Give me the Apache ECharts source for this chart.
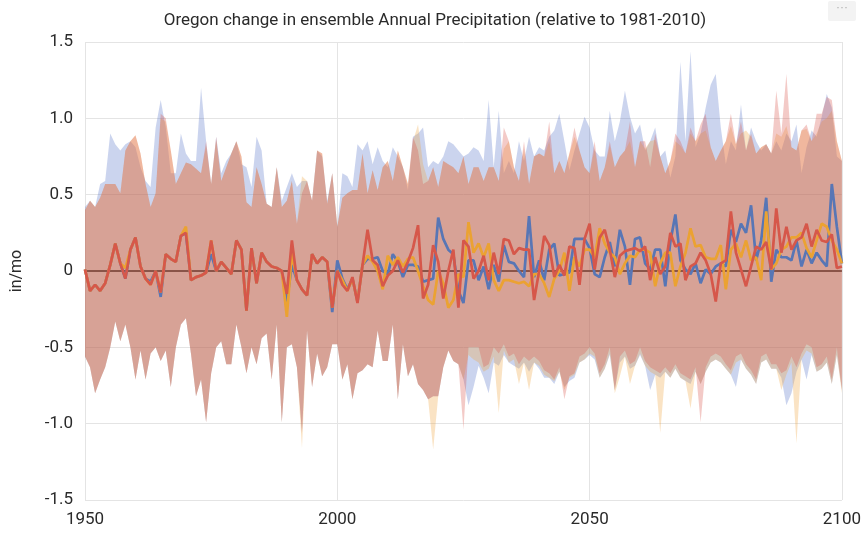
<!DOCTYPE html>
<html>
<head>
<meta charset="utf-8">
<script src="https://cdn.jsdelivr.net/npm/echarts@6/dist/echarts.min.js"></script>
<style>html,body{margin:0;padding:0;background:#fff;}#c{width:864px;height:534px;}</style>
</head>
<body>
<div id="c"></div>
<script>
const years = [];
for (let y = 1950; y <= 2100; y++) years.push(String(y));
const xTickLabels = ['1950', '2000', '2050', '2100'];
const yTicks = [-1.5, -1.0, -0.5, 0, 0.5, 1.0, 1.5];

const redMean = [
 0.01,-0.13,-0.09,-0.13,-0.08,0.04,0.18,0.05,-0.05,0.14,
 0.22,0.03,-0.05,-0.09,0.0,-0.14,0.11,0.08,0.06,0.23,
 0.25,-0.06,-0.04,-0.03,-0.01,0.2,0.0,0.06,0.02,-0.02,
 0.2,0.14,-0.26,0.15,-0.08,0.12,0.06,0.03,0.02,0.0,
 -0.15,0.2,-0.06,-0.12,-0.16,0.11,0.05,0.09,0.06,-0.24,
 0.0,-0.09,-0.13,-0.04,-0.21,0.04,0.27,0.07,0.04,-0.1,
 -0.03,0.0,0.07,-0.01,0.06,0.15,0.3,-0.18,-0.09,0.17,
 0.06,-0.18,0.0,0.14,-0.24,0.2,0.16,-0.05,0.0,0.1,
 -0.06,0.12,-0.02,0.21,0.2,0.11,0.15,0.14,0.14,-0.19,
 0.0,0.23,0.17,-0.04,0.04,-0.03,0.16,0.15,-0.09,0.21,
 0.31,0.01,0.22,0.27,0.14,-0.04,0.1,0.13,0.14,0.15,
 0.13,0.16,-0.06,0.09,-0.02,0.03,0.25,0.16,0.18,-0.06,
 0.03,0.05,0.12,0.07,-0.02,-0.2,0.05,0.07,0.39,0.12,
 0.01,-0.1,0.03,0.16,0.14,0.19,0.01,0.41,0.12,0.29,
 0.14,0.2,0.22,0.31,0.16,0.27,0.2,0.19,0.24,0.02,
 0.03];
const blueMean = [
 0.01,-0.13,-0.09,-0.13,-0.08,0.04,0.18,0.05,-0.05,0.14,
 0.22,0.03,-0.05,-0.07,0.0,-0.17,0.11,0.08,0.06,0.23,
 0.25,-0.06,-0.04,-0.03,-0.01,0.11,0.0,0.06,0.02,-0.02,
 0.2,0.14,-0.26,0.15,-0.08,0.12,0.06,0.03,0.02,0.0,
 -0.2,0.04,-0.06,-0.12,-0.16,0.11,0.05,0.09,0.06,-0.27,
 0.07,-0.05,-0.12,-0.05,-0.2,0.04,0.08,0.08,0.09,0.0,
 -0.02,0.11,0.06,-0.04,0.04,0.04,0.03,-0.07,-0.06,-0.05,
 0.35,0.21,0.14,0.11,-0.13,-0.21,0.07,0.07,-0.06,0.03,
 -0.12,0.04,-0.07,0.17,0.06,0.05,0.0,-0.04,0.36,-0.04,
 0.07,-0.06,0.14,0.18,-0.03,-0.02,-0.01,0.21,0.21,0.21,
 0.15,-0.02,-0.04,0.09,0.19,0.03,0.27,0.16,-0.09,0.21,
 0.22,0.05,0.01,0.14,0.14,-0.1,0.19,0.37,0.07,0.01,
 -0.02,0.05,-0.08,0.01,-0.02,0.03,0.05,0.03,0.27,0.19,
 0.31,0.25,0.43,0.07,0.2,0.48,-0.07,0.14,0.09,0.09,
 0.07,0.2,0.03,0.14,0.05,0.12,0.07,0.03,0.57,0.29,
 0.05];
const orangeMean = [
 0.01,-0.13,-0.09,-0.13,-0.08,0.04,0.18,0.05,0.02,0.14,
 0.22,0.03,-0.05,-0.09,0.0,-0.14,0.11,0.08,0.06,0.23,
 0.29,-0.06,-0.04,-0.03,-0.01,0.2,0.0,0.06,0.02,-0.02,
 0.2,0.14,-0.26,0.15,-0.08,0.12,0.06,0.03,0.02,0.0,
 -0.3,0.12,-0.06,-0.12,-0.16,0.11,0.05,0.09,0.06,-0.24,
 0.0,-0.06,-0.13,-0.05,-0.2,0.04,0.1,0.06,0.0,-0.12,
 0.1,0.04,0.09,0.03,0.08,0.09,0.0,-0.1,-0.19,-0.22,
 0.0,-0.08,-0.24,-0.19,-0.02,-0.04,0.32,0.12,0.18,0.09,
 0.18,-0.06,-0.13,-0.06,-0.06,-0.07,-0.08,-0.07,-0.1,-0.02,
 -0.02,-0.08,-0.17,-0.05,0.0,0.12,-0.13,0.09,0.03,0.14,
 0.14,0.09,0.28,0.18,0.12,0.09,-0.02,0.05,0.1,0.09,
 0.14,0.14,0.12,-0.1,0.05,0.12,0.12,-0.1,0.03,0.12,
 0.28,0.16,0.17,0.09,0.08,0.08,0.17,-0.12,0.14,0.18,
 0.09,0.2,0.07,0.09,-0.06,0.39,0.01,0.05,0.14,0.16,
 0.22,0.22,0.25,0.15,0.09,0.2,0.31,0.29,0.2,0.14,
 0.05];

const redUpper = [
 0.40,0.46,0.42,0.48,0.57,0.57,0.57,0.51,0.79,0.85,
 0.89,0.77,0.57,0.42,0.51,1.03,1.0,0.79,0.57,0.64,
 0.71,0.7,0.67,0.64,0.85,0.57,0.88,0.59,0.68,0.77,
 0.85,0.75,0.45,0.42,0.68,0.57,0.44,0.42,0.68,0.42,
 0.46,0.59,0.31,0.51,0.59,0.46,0.79,0.77,0.44,0.64,
 0.29,0.48,0.51,0.53,0.53,0.77,0.51,0.66,0.53,0.68,
 0.72,0.59,0.79,0.68,0.57,0.88,0.79,0.57,0.59,0.68,
 0.55,0.72,0.7,0.68,0.64,0.75,0.57,0.68,0.68,0.59,
 0.68,0.68,0.59,0.94,0.85,0.68,0.59,0.85,0.57,0.75,
 0.77,0.75,0.98,0.64,0.72,0.64,0.77,0.94,0.79,0.68,
 0.64,0.85,0.59,0.68,0.85,0.68,0.75,0.79,0.98,0.68,
 0.85,0.85,0.68,0.9,0.75,0.64,0.72,0.9,0.85,0.77,
 0.94,0.85,0.96,1.03,0.81,0.72,0.79,0.85,1.03,0.83,
 0.98,0.79,0.9,0.77,0.81,0.83,0.77,1.18,0.9,1.29,
 0.81,0.79,0.92,0.96,0.85,1.03,1.03,1.14,1.12,0.85,
 0.72];
const orangeUpper = [
 0.40,0.46,0.42,0.48,0.57,0.57,0.57,0.51,0.79,0.85,
 0.89,0.77,0.57,0.42,0.51,1.0,0.98,0.79,0.57,0.64,
 0.71,0.7,0.67,0.64,0.82,0.57,0.86,0.59,0.68,0.77,
 0.85,0.75,0.45,0.42,0.68,0.57,0.44,0.42,0.68,0.42,
 0.46,0.59,0.31,0.62,0.59,0.46,0.79,0.77,0.44,0.64,
 0.29,0.48,0.51,0.53,0.53,0.77,0.51,0.66,0.53,0.68,
 0.72,0.59,0.79,0.68,0.57,0.85,0.96,0.7,0.59,0.68,
 0.55,0.72,0.7,0.68,0.64,0.75,0.57,0.68,0.68,0.59,
 0.68,0.68,0.59,0.8,0.85,0.68,0.59,0.8,0.57,0.75,
 0.77,0.75,0.85,0.64,0.72,0.64,0.77,0.88,0.79,0.68,
 0.64,0.8,0.59,0.68,0.82,0.68,0.75,0.79,0.85,0.68,
 0.85,0.8,0.85,0.86,0.75,0.64,0.72,0.85,0.82,0.77,
 0.9,0.85,0.9,0.92,0.81,0.72,0.79,0.85,0.95,0.83,
 0.9,0.92,0.88,0.77,0.81,0.83,0.77,0.9,0.88,0.95,
 0.81,0.79,0.92,0.93,0.85,0.9,0.98,1.0,1.05,0.85,
 0.72];
const blueUpper = [
 0.42,0.46,0.42,0.57,0.59,0.9,0.83,0.79,0.83,0.85,
 0.81,0.68,0.59,0.55,0.94,1.12,0.94,0.64,0.64,0.9,
 0.77,0.72,0.72,1.2,0.85,0.57,0.88,0.64,0.72,0.77,
 0.85,0.7,0.68,0.55,0.88,0.79,0.44,0.42,0.68,0.46,
 0.55,0.64,0.55,0.59,0.59,0.46,0.79,0.75,0.46,0.64,
 0.29,0.64,0.62,0.55,0.83,0.79,0.85,0.7,0.81,0.72,
 0.68,0.81,0.75,0.68,0.53,0.88,0.9,0.94,0.68,0.72,
 0.7,0.75,0.85,0.83,0.79,0.75,0.77,0.81,0.79,0.72,
 1.12,0.68,1.05,0.64,0.72,0.64,0.85,0.72,0.88,0.75,
 0.81,0.79,0.88,0.92,1.03,0.85,0.66,0.79,0.9,1.01,
 0.94,0.79,0.75,0.75,1.05,0.85,0.98,1.18,1.01,0.9,
 0.96,0.79,0.85,0.94,0.75,0.79,0.61,0.75,1.37,0.85,
 1.44,0.81,0.9,1.07,1.22,1.29,0.94,0.7,0.85,0.79,
 1.09,0.79,0.94,0.85,0.79,0.83,0.77,0.85,0.79,0.9,
 0.85,0.96,0.64,0.81,0.92,0.88,1.01,1.16,1.07,0.75,
 0.72];

const redLower = [
 -0.56,-0.63,-0.8,-0.71,-0.63,-0.5,-0.33,-0.46,-0.35,-0.5,
 -0.71,-0.52,-0.71,-0.54,-0.5,-0.59,-0.52,-0.76,-0.5,-0.35,
 -0.31,-0.54,-0.82,-0.71,-0.99,-0.67,-0.5,-0.46,-0.61,-0.61,
 -0.35,-0.5,-0.67,-0.5,-0.61,-0.44,-0.41,-0.71,-0.35,-0.99,
 -0.5,-0.48,-0.63,-1.06,-0.39,-0.76,-0.54,-0.69,-0.63,-0.48,
 -0.48,-0.71,-0.61,-0.84,-0.67,-0.65,-0.61,-0.63,-0.39,-0.59,
 -0.59,-0.35,-0.84,-0.48,-0.69,-0.61,-0.74,-0.78,-0.84,-0.82,
 -0.82,-0.63,-0.52,-0.59,-0.61,-1.04,-0.5,-0.5,-0.5,-0.63,
 -0.61,-0.5,-0.54,-0.48,-0.56,-0.54,-0.61,-0.56,-0.59,-0.56,
 -0.59,-0.65,-0.67,-0.71,-0.63,-0.84,-0.69,-0.67,-0.56,-0.54,
 -0.5,-0.54,-0.67,-0.61,-0.5,-0.78,-0.56,-0.52,-0.61,-0.59,
 -0.5,-0.59,-0.63,-0.65,-0.67,-0.63,-0.67,-0.61,-0.67,-0.69,
 -0.71,-0.63,-0.99,-0.63,-0.56,-0.54,-0.56,-0.61,-0.65,-0.56,
 -0.54,-0.61,-0.65,-0.71,-0.56,-0.54,-0.61,-0.61,-0.67,-0.65,
 -0.56,-0.63,-0.54,-0.48,-0.5,-0.63,-0.61,-0.56,-0.71,-0.5,
 -0.78];
const blueLower = [
 -0.56,-0.63,-0.8,-0.71,-0.63,-0.5,-0.33,-0.46,-0.35,-0.5,
 -0.71,-0.52,-0.71,-0.54,-0.5,-0.59,-0.52,-0.76,-0.5,-0.35,
 -0.31,-0.54,-0.82,-0.71,-0.99,-0.67,-0.5,-0.46,-0.61,-0.61,
 -0.35,-0.5,-0.67,-0.5,-0.61,-0.44,-0.41,-0.71,-0.35,-0.99,
 -0.5,-0.48,-0.63,-1.06,-0.39,-0.76,-0.54,-0.69,-0.63,-0.48,
 -0.48,-0.71,-0.61,-0.84,-0.67,-0.65,-0.61,-0.63,-0.39,-0.59,
 -0.59,-0.35,-0.84,-0.48,-0.69,-0.61,-0.74,-0.78,-0.84,-0.82,
 -0.82,-0.63,-0.52,-0.59,-0.61,-0.71,-0.88,-0.76,-0.62,-0.7,
 -0.8,-0.6,-0.62,-0.55,-0.6,-0.62,-0.64,-0.6,-0.66,-0.6,
 -0.64,-0.7,-0.7,-0.74,-0.66,-0.76,-0.72,-0.7,-0.6,-0.58,
 -0.55,-0.58,-0.7,-0.64,-0.55,-0.78,-0.6,-0.56,-0.64,-0.62,
 -0.55,-0.62,-0.78,-0.68,-0.7,-0.66,-0.7,-0.64,-0.7,-0.72,
 -0.74,-0.66,-0.74,-0.66,-0.6,-0.58,-0.6,-0.64,-0.68,-0.76,
 -0.58,-0.64,-0.68,-0.74,-0.6,-0.58,-0.64,-0.64,-0.7,-0.88,
 -0.8,-0.66,-0.58,-0.71,-0.55,-0.66,-0.64,-0.6,-0.74,-0.55,
 -0.78];
const orangeLower = [
 -0.56,-0.63,-0.8,-0.71,-0.63,-0.5,-0.33,-0.46,-0.35,-0.5,
 -0.71,-0.52,-0.71,-0.54,-0.5,-0.59,-0.52,-0.76,-0.5,-0.35,
 -0.31,-0.54,-0.82,-0.71,-0.99,-0.67,-0.5,-0.46,-0.61,-0.61,
 -0.35,-0.5,-0.67,-0.5,-0.61,-0.44,-0.41,-0.71,-0.35,-0.99,
 -0.5,-0.48,-0.63,-1.16,-0.39,-0.76,-0.54,-0.69,-0.63,-0.48,
 -0.48,-0.71,-0.61,-0.84,-0.67,-0.65,-0.61,-0.63,-0.39,-0.59,
 -0.59,-0.35,-0.84,-0.48,-0.69,-0.61,-0.74,-0.78,-0.84,-1.17,
 -0.82,-0.63,-0.52,-0.59,-0.61,-0.71,-0.55,-0.58,-0.6,-0.66,
 -0.64,-0.56,-0.93,-0.52,-0.6,-0.58,-0.74,-0.6,-0.78,-0.6,
 -0.62,-0.68,-0.7,-0.72,-0.66,-0.78,-0.7,-0.68,-0.6,-0.58,
 -0.54,-0.56,-0.7,-0.64,-0.54,-0.8,-0.69,-0.56,-0.74,-0.62,
 -0.54,-0.62,-0.66,-0.68,-1.06,-0.66,-0.7,-0.64,-0.7,-0.72,
 -0.9,-0.66,-0.74,-0.66,-0.6,-0.58,-0.6,-0.64,-0.68,-0.6,
 -0.58,-0.64,-0.68,-0.74,-0.6,-0.58,-0.64,-0.64,-0.78,-0.68,
 -0.6,-1.13,-0.58,-0.52,-0.54,-0.66,-0.64,-0.6,-0.74,-0.55,
 -0.8];

const colors = { blue: '#5876b5', orange: '#eba232', red: '#d6574a' };
const bandColors = { blue: '#5470c6', orange: '#eea23b', red: '#d75046' };

function bandSeries(key, lower, upper) {
  const diff = upper.map((u, i) => +(u - lower[i]).toFixed(3));
  const base = {
    type: 'line', stack: 'band_' + key, stackStrategy: 'all',
    data: lower, symbol: 'none', lineStyle: { opacity: 0 }, silent: true, z: 1
  };
  const top = {
    type: 'line', stack: 'band_' + key, stackStrategy: 'all',
    data: diff, symbol: 'none', lineStyle: { opacity: 0 },
    areaStyle: { color: bandColors[key], opacity: 0.3 }, silent: true, z: 1
  };
  return [base, top];
}
function lineSeries(key, data) {
  return { type: 'line', data: data, symbol: 'none', z: 5,
    lineStyle: { color: colors[key], width: 2.7 } };
}

const series = [].concat(
  bandSeries('blue', blueLower, blueUpper),
  bandSeries('orange', orangeLower, orangeUpper),
  bandSeries('red', redLower, redUpper),
  [{
    type: 'line', data: [], z: 4,
    markLine: { silent: true, symbol: 'none', label: { show: false },
      lineStyle: { color: '#8a5448', width: 2, type: 'solid' },
      data: [{ yAxis: 0 }] }
  }],
  [lineSeries('blue', blueMean), lineSeries('orange', orangeMean), lineSeries('red', redMean)]
);

const chart = echarts.init(document.getElementById('c'), null, { renderer: 'canvas' });
chart.setOption({
  animation: false,
  textStyle: { fontFamily: 'Roboto, sans-serif' },
  title: {
    text: 'Oregon change in ensemble Annual Precipitation (relative to 1981-2010)',
    left: 430, textAlign: 'center', top: 7,
    textStyle: { fontSize: 17, fontWeight: 'normal', color: '#2a2a2a', fontFamily: 'Roboto' }
  },
  grid: { left: 85, right: 19, top: 42, bottom: 34 },
  xAxis: {
    type: 'category', data: years, boundaryGap: false,
    axisLine: { show: false }, axisTick: { show: false },
    axisLabel: {
      interval: (i, v) => xTickLabels.indexOf(v) >= 0,
      color: '#2a2a2a', fontSize: 17, margin: 11, fontFamily: 'Roboto'
    },
    splitLine: { show: true, interval: (i, v) => xTickLabels.indexOf(v) >= 0,
      lineStyle: { color: '#e4e4e4', width: 1 } }
  },
  yAxis: {
    type: 'value', min: yTicks[0], max: yTicks[yTicks.length - 1], interval: 0.5,
    name: 'in/mo', nameLocation: 'middle', nameGap: 60,
    nameTextStyle: { fontSize: 16, color: '#2a2a2a', fontFamily: 'Roboto' },
    axisLine: { show: false }, axisTick: { show: false },
    axisLabel: { color: '#2a2a2a', fontSize: 17, margin: 12, fontFamily: 'Roboto',
      formatter: v => (v === 0 ? '0' : v.toFixed(1)) },
    splitLine: { lineStyle: { color: '#e4e4e4', width: 1 } }
  },
  graphic: [{
    type: 'group', right: 8, top: 1,
    children: [
      { type: 'rect', shape: { x: 0, y: 0, width: 28, height: 20, r: 2 }, style: { fill: '#f3f3f3' } },
      { type: 'text', x: 14, y: 7, style: { text: '···', fill: '#b0b0b0', fontSize: 12, align: 'center', verticalAlign: 'middle' } }
    ]
  }],
  series: series
});
</script>
</body>
</html>
